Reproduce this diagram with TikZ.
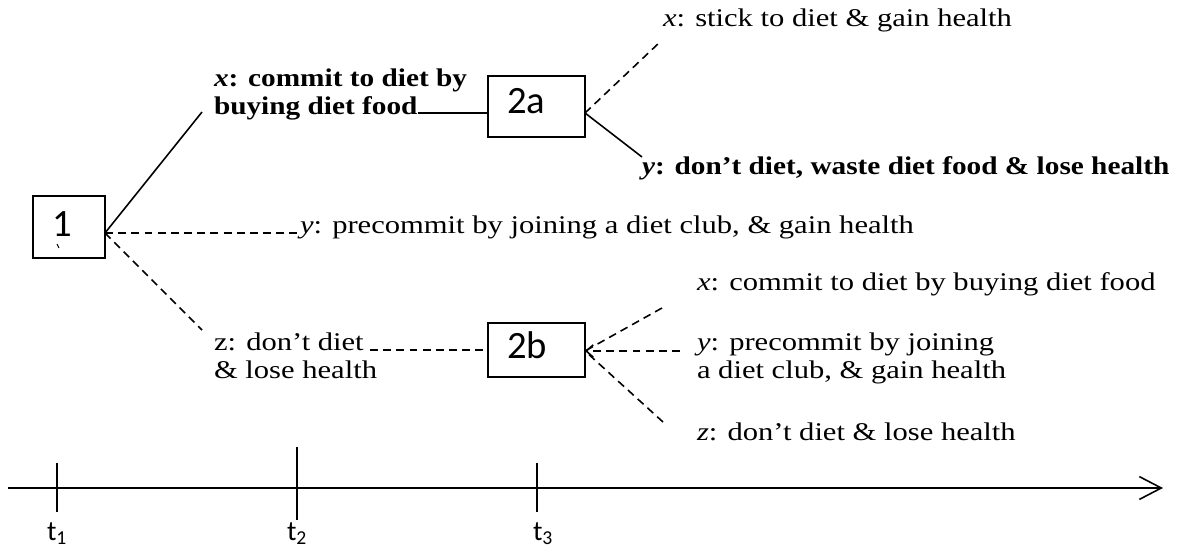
\documentclass[tikz,border=0pt]{standalone}
\usepackage{fontspec}
\newfontfamily\calib{Carlito}
\newfontfamily\pal{Liberation Serif}[FakeStretch=1.2]
\newfontfamily\palbf{Liberation Serif}[FakeStretch=1.15]
\usetikzlibrary{arrows.meta}

\begin{document}
\begin{tikzpicture}[x=0.02cm,y=-0.02cm,
  every node/.style={inner sep=0pt, outer sep=0pt},
  box/.style={draw, line width=0.9pt, minimum width=1.94cm},
  boxtxt/.style={anchor=base west, font=\calib\fontsize{22}{26}\selectfont},
  lbl/.style={anchor=base west, font=\pal\fontsize{14.5}{17}\selectfont},
  blbl/.style={anchor=base west, font=\palbf\bfseries\fontsize{14.5}{17}\selectfont},
  ttxt/.style={anchor=base west, font=\calib\fontsize{16}{19}\selectfont},
  conn/.style={line width=0.9pt},
  dconn/.style={conn, dash pattern=on 4.5pt off 3pt},
]
\useasboundingbox (0,0) rectangle (1179,550);

% decision boxes
\node[box, minimum width=1.44cm, minimum height=1.24cm] (b1) at (69,227) {};
\node[box, minimum height=1.22cm] (b2a) at (536.5,106.5) {};
\node[box, minimum height=1.08cm] (b2b) at (536.5,350) {};
\node[boxtxt] (n1) at (52,237) {1};
\node[boxtxt] (n2a) at (507,114) {2a};
\node[boxtxt] (n2b) at (507,358) {2b};
\draw[line width=0.6pt] (57,244) -- (59,248);

% branch points on the box edges
\coordinate (v1) at (105,233);
\coordinate (v2a) at (585,113);
\coordinate (v2ain) at (488,113);
\coordinate (v2b) at (585,351);
\coordinate (v2bin) at (488,350);

% labels
\node[blbl] (lx1) at (214,87) {\textit{x}: commit to diet by};
\node[blbl] (lx2) at (214,115) {buying diet food};
\node[lbl] (ly1) at (300,234) {\textit{y}: precommit by joining a diet club, \& gain health};
\node[lbl] (lz1) at (214,350) {z: don’t diet};
\node[lbl] (lz2) at (214,378) {\& lose health};
\node[lbl] (ax) at (663,27) {\textit{x}: stick to diet \& gain health};
\node[blbl] (ay) at (642,175) {\textit{y}: don’t diet, waste diet food \& lose health};
\node[lbl] (bx) at (697,291) {\textit{x}: commit to diet by buying diet food};
\node[lbl] (by1) at (697,350) {\textit{y}: precommit by joining};
\node[lbl] (by2) at (697,378) {a diet club, \& gain health};
\node[lbl] (bz) at (697,440) {\textit{z}: don’t diet \& lose health};

% free ends of the branches
\coordinate (e1x) at (202,112);
\coordinate (e1y) at (298,233);
\coordinate (e1z) at (202,330);
\coordinate (fx) at (lx2.base east);
\coordinate (fz) at (370,350);
\coordinate (e2ax) at (660,42);
\coordinate (e2ay) at (642,157);
\coordinate (e2bx) at (662,308);
\coordinate (e2by) at (680,351);
\coordinate (e2bz) at (663,422);

% branches
\draw[conn] (v1) -- (e1x);
\draw[dconn] (v1) -- (e1y);
\draw[dconn] (v1) -- (e1z);
\draw[conn] (fx |- v2ain) -- (v2ain);
\draw[dconn] (fz) -- (v2bin);
\draw[dconn] (v2a) -- (e2ax);
\draw[conn] (v2a) -- (e2ay);
\draw[dconn] (e2bx) -- (v2b);
\draw[dconn, -{Straight Barb[length=4pt,width=7pt]}] (e2by) -- (v2b);
\draw[dconn] (e2bz) -- (v2b);

% time axis
\coordinate (ta) at (8,488);
\coordinate (tb) at (1163,488);
\draw[conn, -{Straight Barb[length=12.5pt,width=13pt]}] (ta) -- (tb);
\coordinate (t1a) at (57,463); \coordinate (t1b) at (57,512);
\coordinate (t2a) at (297,447); \coordinate (t2b) at (297,520);
\coordinate (t3a) at (537,463); \coordinate (t3b) at (537,512);
\draw[conn] (t1a) -- (t1b);
\draw[conn] (t2a) -- (t2b);
\draw[conn] (t3a) -- (t3b);
\node[ttxt] (tl1) at (47,540) {t\textsubscript{1}};
\node[ttxt] (tl2) at (287,540) {t\textsubscript{2}};
\node[ttxt] (tl3) at (533,540) {t\textsubscript{3}};
\end{tikzpicture}
\end{document}
